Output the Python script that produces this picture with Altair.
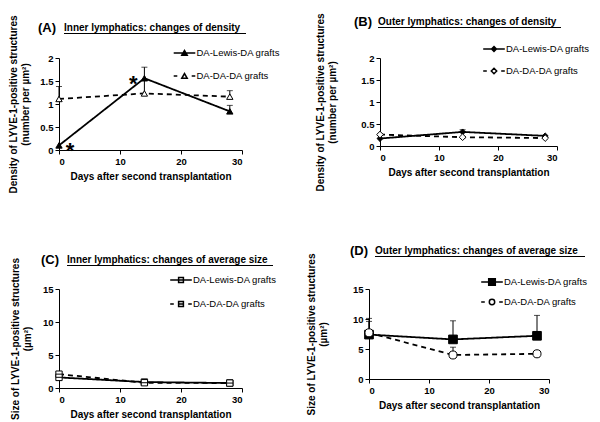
import altair as alt
import pandas as pd

FONT = "Liberation Sans"

days = [0, 14, 28]
series = ["DA-Lewis-DA grafts", "DA-DA-DA grafts"]

# (A) inner lymphatics density
a_lewis = [0.10, 1.56, 0.84]
a_lewis_err = [0.0, 0.24, 0.13]
a_da = [1.11, 1.23, 1.16]
a_da_err = [0.27, 0.28, 0.13]
# (B) outer lymphatics density
b_lewis = [0.17, 0.32, 0.23]
b_lewis_err = [0.0, 0.05, 0.0]
b_da = [0.26, 0.20, 0.18]
b_da_err = [0.0, 0.0, 0.0]
# (C) inner lymphatics average size
c_lewis = [1.6, 0.9, 0.75]
c_lewis_err = [0.0, 0.0, 0.0]
c_da = [2.1, 0.8, 0.75]
c_da_err = [0.0, 0.0, 0.0]
# (D) outer lymphatics average size
d_lewis = [7.4, 6.6, 7.2]
d_lewis_err = [2.2, 3.1, 3.4]
d_da = [7.7, 4.0, 4.2]
d_da_err = [2.4, 1.3, 0.0]

ast_days = [0, 14]
ast_vals = [0.10, 1.56]

letters = ["(A)", "(B)", "(C)", "(D)"]
headings = [
    "Inner lymphatics: changes of density",
    "Outer lymphatics: changes of density",
    "Inner lymphatics: changes of average size",
    "Outer lymphatics: changes of average size",
]
density_title = ["Density of LYVE-1-positive structures", "(number per µm²)"]
size_title = ["Size of LYVE-1-positive structures", "(µm²)"]
x_title = "Days after second transplantation"
x_ticks = [0, 10, 20, 30]
density_ticks = [0, 0.5, 1, 1.5, 2]
size_ticks = [0, 5, 10, 15]

# marker shapes (unit square paths)
SQ = "M-1,-1H1V1H-1Z"
SQL = "M-1,-1H1V1H-1ZM-1,0H1"

# legend samples: line piece + marker, unit = 3 px at size 36
L_TRI_SOLID = "M-3.6,0H3.6M-0.9,0.75L0,-0.8L0.9,0.75Z"
L_TRI_DASH = "M-3.6,0H-2.4M2.4,0H3.6M-0.9,0.75L0,-0.8L0.9,0.75Z"
L_DIA_SOLID = "M-3.6,0H3.6M0,-0.8L0.8,0L0,0.8L-0.8,0Z"
L_DIA_DASH = "M-3.6,0H-2.4M2.4,0H3.6M0,-0.9L0.9,0L0,0.9L-0.9,0Z"
L_SQ_SOLID = "M-3.6,0H3.6M-0.8,-0.8H0.8V0.8H-0.8Z"
L_SQL_DASH = "M-3.6,0H-2.4M2.4,0H3.6M-0.8,-0.8H0.8V0.8H-0.8ZM-0.8,0H0.8"
L_BSQ_SOLID = "M-3.6,0H3.6M-1.1,-1.1H1.1V1.1H-1.1Z"
L_CIR_DASH = "M-3.6,0H-2.4M2.4,0H3.6M-0.9,0A0.9,0.9,0,1,1,0.9,0A0.9,0.9,0,1,1,-0.9,0Z"


def panel(lew, lew_err, da, da_err, ydom, yticks, ytitle, tpad, letter, heading,
          shapes, fills, sizes, leg_paths, leg_fills, w, h,
          letter_pos, head_pos, ul_w, leg_x, leg_rows, extra=None):
    df = pd.DataFrame({
        "day": days * 2,
        "value": lew + da,
        "err": lew_err + da_err,
        "series": [series[0]] * 3 + [series[1]] * 3,
    })
    df["top"] = df["value"] + df["err"]
    base = alt.Chart(df)
    xscale = alt.Scale(domain=[0, 30], nice=False)
    xaxis = alt.Axis(values=x_ticks, title=x_title, titlePadding=6)
    yscale = alt.Scale(domain=ydom, nice=False)
    yaxis = alt.Axis(values=yticks, format=".1~f", title=ytitle, titlePadding=tpad,
                     labelOverlap=False)
    x = alt.X("day:Q", scale=xscale, axis=xaxis)
    y = alt.Y("value:Q", scale=yscale, axis=yaxis)
    ytop = alt.Y("top:Q", scale=yscale, axis=yaxis)
    line = base.mark_line(color="black", strokeWidth=1.8).encode(
        x=x, y=y,
        strokeDash=alt.StrokeDash("series:N", legend=None,
                                  scale=alt.Scale(domain=series, range=[[1, 0], [5, 4]])),
    )
    errs = base.transform_filter("datum.err > 0")
    rule = errs.mark_rule(color="black", strokeWidth=1).encode(x=x, y=y, y2="top:Q")
    cap = errs.mark_tick(orient="horizontal", size=6, thickness=1, color="black").encode(
        x=x, y=ytop)
    layers = [line, rule, cap]
    for i in range(2):
        layers.append(
            base.transform_filter(alt.datum.series == series[i]).mark_point(
                shape=shapes[i], filled=True, fill=fills[i], stroke="black",
                strokeWidth=1, size=sizes[i], opacity=1).encode(x=x, y=y))
    if extra is not None:
        layers += extra(x, y)
    # legend (drawn inside the panel, as in the original figure)
    for i in range(2):
        lb = alt.Chart(pd.DataFrame({"s": [series[i]]}))
        layers.append(lb.mark_point(shape=leg_paths[i], size=36, filled=True,
                                    fill=leg_fills[i], stroke="black", strokeWidth=1.5,
                                    opacity=1).encode(
            x=alt.value(leg_x), y=alt.value(leg_rows[i])))
        layers.append(lb.mark_text(align="left", baseline="middle", font=FONT,
                                   fontSize=9.5, color="black").encode(
            text="s:N", x=alt.value(leg_x + 12), y=alt.value(leg_rows[i])))
    tdf = pd.DataFrame({"letter": [letter], "heading": [heading]})
    tb = alt.Chart(tdf)
    layers.append(tb.mark_text(align="left", baseline="middle", font=FONT, fontSize=13,
                               fontWeight="bold", color="black").encode(
        text="letter:N", x=alt.value(letter_pos[0]), y=alt.value(letter_pos[1])))
    layers.append(tb.mark_text(align="left", baseline="middle", font=FONT, fontSize=10,
                               fontWeight="bold", color="black").encode(
        text="heading:N", x=alt.value(head_pos[0]), y=alt.value(head_pos[1])))
    layers.append(tb.mark_rule(color="black", strokeWidth=1).encode(
        x=alt.value(head_pos[0]), x2=alt.value(head_pos[0] + ul_w),
        y=alt.value(head_pos[1] + 5.5)))
    return alt.layer(*layers).properties(width=w, height=h)


def asterisks(x, y):
    adf = pd.DataFrame({"day": ast_days, "value": ast_vals})
    ab = alt.Chart(adf)
    right = ab.transform_filter("datum.day < 5").mark_text(
        text="*", font=FONT, fontSize=22, fontWeight="bold", dx=11, dy=6, color="black"
    ).encode(x=x, y=y)
    left = ab.transform_filter("datum.day > 5").mark_text(
        text="*", font=FONT, fontSize=22, fontWeight="bold", dx=-11, dy=6, color="black"
    ).encode(x=x, y=y)
    return [right, left]


A = panel(a_lewis, a_lewis_err, a_da, a_da_err, [0, 2], density_ticks, density_title, 9,
          letters[0], headings[0], ["triangle-up", "triangle-up"], ["black", "white"], [40, 40],
          [L_TRI_SOLID, L_TRI_DASH], ["black", "white"],
          183, 92, (-21, -30), (5, -30), 182, 125.5, [-5, 18], extra=asterisks)
B = panel(b_lewis, b_lewis_err, b_da, b_da_err, [0, 2], density_ticks, density_title, 23,
          letters[1], headings[1], ["diamond", "diamond"], ["black", "white"], [35, 45],
          [L_DIA_SOLID, L_DIA_DASH], ["black", "white"],
          177, 88, (-26, -36), (-2, -36), 183, 114, [-9, 13])
C = panel(c_lewis, c_lewis_err, c_da, c_da_err, [0, 15], size_ticks, size_title, 10,
          letters[2], headings[2], [SQ, SQL], ["white", "white"], [40, 40],
          [L_SQ_SOLID, L_SQL_DASH], ["white", "white"],
          183, 99, (-18, -29), (8, -29), 206, 122, [-9, 15])
D = panel(d_lewis, d_lewis_err, d_da, d_da_err, [0, 15], size_ticks, size_title, 24,
          letters[3], headings[3], ["square", "circle"], ["black", "white"], [75, 65],
          [L_BSQ_SOLID, L_CIR_DASH], ["black", "white"],
          180, 90, (-19, -38), (6, -38), 210, 123, [-7, 13])

row1 = alt.hconcat(A, B, spacing=35)
row2 = alt.hconcat(C, D, spacing=29)
chart = alt.vconcat(row1, row2, spacing=51).properties(
    padding={"left": 0, "top": 4, "right": 0, "bottom": 0}
).configure_view(stroke=None).configure_axis(
    grid=False, domainColor="black", tickColor="black", tickSize=4,
    labelFont=FONT, labelFontWeight="bold", labelFontSize=9.5, labelColor="black",
    titleFont=FONT, titleFontWeight="bold", titleFontSize=10, titleColor="black",
    titleLineHeight=12,
)

chart.save("out.html", embed_options={"renderer": "svg", "actions": False})
